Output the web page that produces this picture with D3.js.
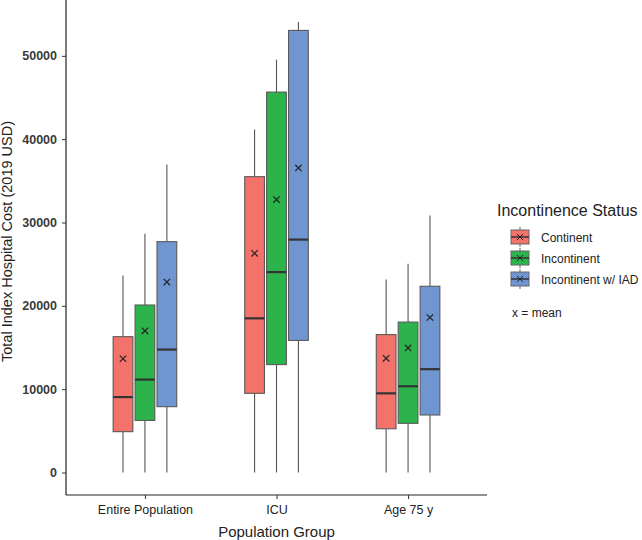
<!DOCTYPE html>
<html><head><meta charset="utf-8">
<script src="https://cdn.jsdelivr.net/npm/d3@7"></script>
<style>body{margin:0;background:#fff}svg{display:block}text{font-family:"Liberation Sans",Arial,sans-serif}</style>
</head><body><svg id="c" width="642" height="540"></svg>
<script>
const groups = ["Entire Population", "ICU", "Age 75 y"];
const statuses = ["Continent", "Incontinent", "Incontinent w/ IAD"];
const colors = ["#F3736B", "#2DB34B", "#6F96D1"];
const yTicks = [0, 10000, 20000, 30000, 40000, 50000];
// per status: arrays over groups
const whiskerLow = [[0,0,0],[0,0,0],[0,0,0]];
const q1 = [[4900, 9500, 5250],[6250, 12950, 5900],[7900, 15850, 6900]];
const median = [[9050, 18500, 9500],[11150, 24050, 10350],[14750, 27950, 12400]];
const q3 = [[16300, 35500, 16550],[20100, 45650, 18050],[27700, 53050, 22350]];
const whiskerHigh = [[23650, 41150, 23150],[28650, 49550, 25050],[36950, 54050, 30850]];
const means = [[13650, 26300, 13700],[17000, 32750, 14950],[22850, 36550, 18600]];

const svg = d3.select("#c");
const L = 66, R = 487, T = 0, B = 495;
const y = d3.scaleLinear().domain([-2700, 56700]).range([B, T]);
const x = d3.scalePoint().domain(groups).range([L, R]).padding(0.6);
const unit = x.step();
const dodge = 0.5, boxW = 0.15;

const data = [];
statuses.forEach((s, si) => groups.forEach((g, gi) => data.push({
  s, si, g, lo: whiskerLow[si][gi], q1: q1[si][gi], med: median[si][gi], q3: q3[si][gi], hi: whiskerHigh[si][gi], mean: means[si][gi]
})));
const cx = d => x(d.g) + (d.si - 1) * dodge / 3 * unit;
const hw = boxW * unit / 2;

const gb = svg.append("g");
const b = gb.selectAll("g").data(data).join("g");
b.append("line").attr("x1", cx).attr("x2", cx).attr("y1", d => y(d.hi)).attr("y2", d => y(d.q3)).attr("stroke", "#555").attr("stroke-width", 1.1);
b.append("line").attr("x1", cx).attr("x2", cx).attr("y1", d => y(d.q1)).attr("y2", d => y(d.lo)).attr("stroke", "#555").attr("stroke-width", 1.1);
b.append("rect").attr("x", d => cx(d) - hw).attr("width", 2 * hw).attr("y", d => y(d.q3)).attr("height", d => y(d.q1) - y(d.q3))
  .attr("fill", d => colors[d.si]).attr("stroke", "#5a5a5a").attr("stroke-width", 1.1);
b.append("line").attr("x1", d => cx(d) - hw).attr("x2", d => cx(d) + hw).attr("y1", d => y(d.med)).attr("y2", d => y(d.med)).attr("stroke", "#333").attr("stroke-width", 2.2);
b.append("path").attr("d", d => { const px = cx(d), py = y(d.mean), r = 3.2; return `M${px-r},${py-r}L${px+r},${py+r}M${px-r},${py+r}L${px+r},${py-r}`; })
  .attr("stroke", "#222").attr("stroke-width", 1.2);

// axes
const ya = svg.append("g").attr("transform", `translate(${L},0)`).call(d3.axisLeft(y).tickValues(yTicks).tickFormat(d3.format("d")).tickSize(4).tickPadding(5));
ya.select(".domain").attr("d", `M0,${T}V${B}`).attr("stroke", "#222").attr("stroke-width", 1.2);
ya.selectAll(".tick line").attr("stroke", "#333");
ya.selectAll(".tick text").attr("font-size", 12.5).attr("font-weight", "bold").attr("fill", "#3a3a3a");
const xa = svg.append("g").attr("transform", `translate(0,${B})`).call(d3.axisBottom(x).tickSize(4).tickPadding(6));
xa.select(".domain").attr("d", `M${L},0H${R}`).attr("stroke", "#222").attr("stroke-width", 1.2);
xa.selectAll(".tick line").attr("stroke", "#333");
xa.selectAll(".tick text").attr("font-size", 12.5).attr("fill", "#222");

svg.append("text").attr("x", (L + R) / 2).attr("y", 537).attr("text-anchor", "middle").attr("font-size", 15).attr("fill", "#222").text("Population Group");
svg.append("text").attr("transform", `translate(12,${(T + B) / 2 - 6}) rotate(-90)`).attr("text-anchor", "middle").attr("font-size", 14.5).attr("fill", "#222").text("Total Index Hospital Cost (2019 USD)");

// legend
const lg = svg.append("g");
lg.append("text").attr("x", 497).attr("y", 216).attr("font-size", 16).attr("fill", "#222").text("Incontinence Status");
const li = lg.selectAll("g.li").data(statuses).join("g").attr("class", "li").attr("transform", (d, i) => `translate(0,${237 + i * 21})`);
li.append("line").attr("x1", 520).attr("x2", 520).attr("y1", -10).attr("y2", 10).attr("stroke", "#666");
li.append("rect").attr("x", 511).attr("y", -7).attr("width", 18).attr("height", 14).attr("fill", (d, i) => colors[i]).attr("stroke", "#666");
li.append("line").attr("x1", 511).attr("x2", 529).attr("y1", 0).attr("y2", 0).attr("stroke", "#333").attr("stroke-width", 1.5);
li.append("path").attr("d", "M517,-3L523,3M517,3L523,-3").attr("stroke", "#222").attr("stroke-width", 1);
li.append("text").attr("x", 541).attr("y", 4.5).attr("font-size", 12).attr("fill", "#222").text(d => d);
lg.append("text").attr("x", 512).attr("y", 317).attr("font-size", 12).attr("fill", "#222").text("x = mean");
</script></body></html>
